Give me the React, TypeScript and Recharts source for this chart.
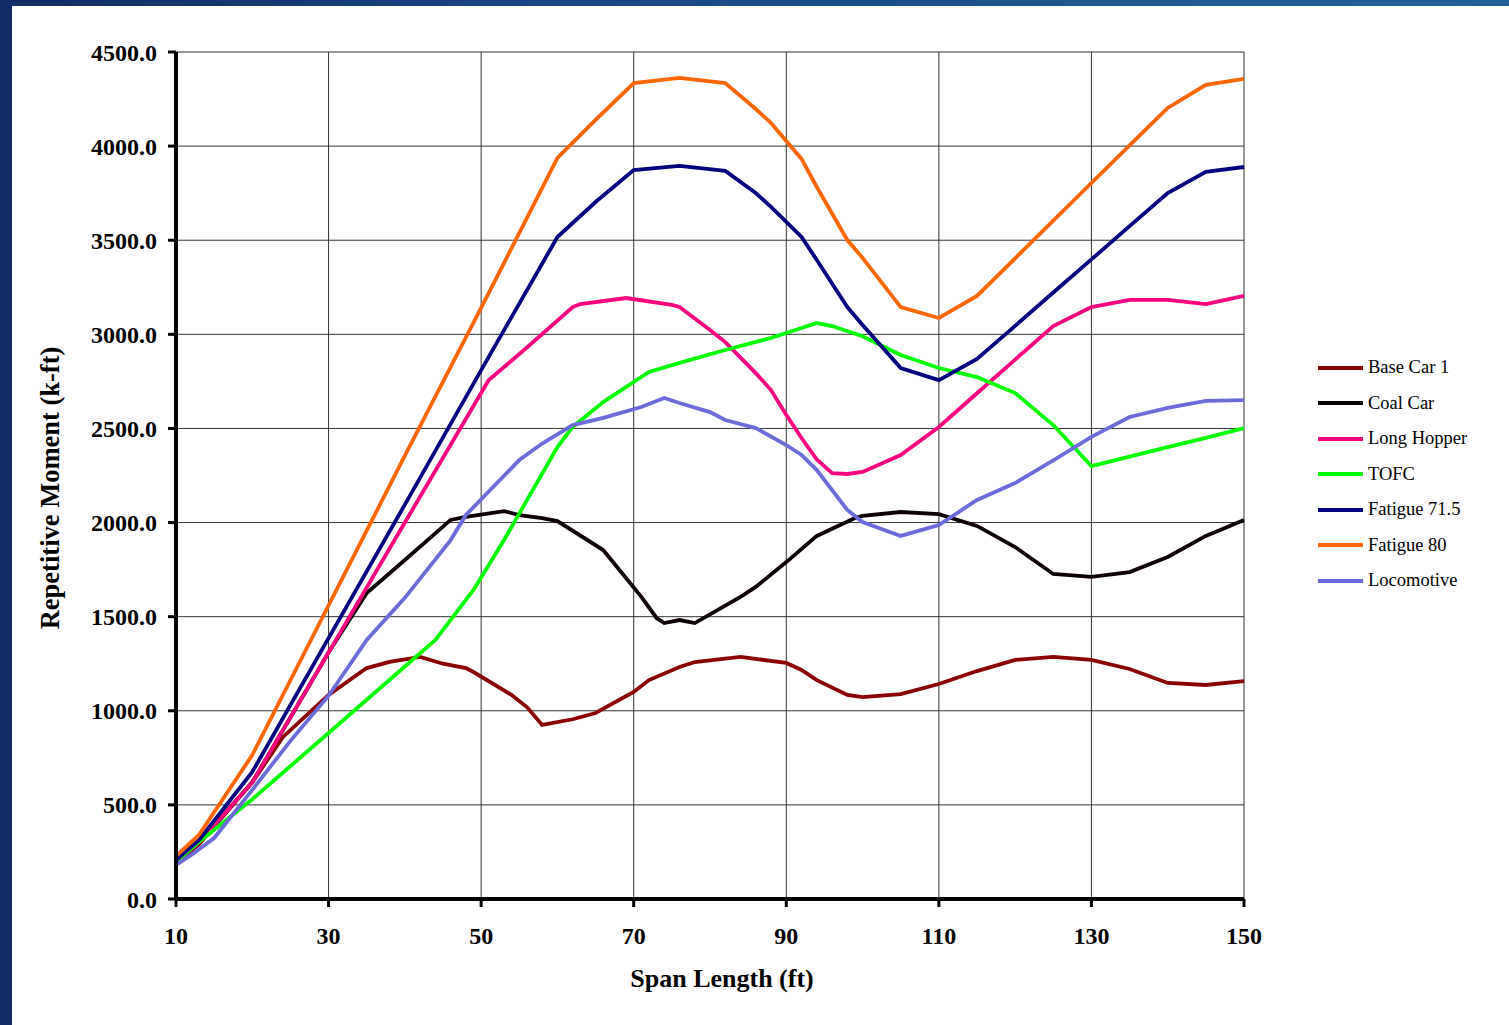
import { LineChart, Line, XAxis, YAxis, CartesianGrid, Legend, Label } from 'recharts';

// span length (ft) and repetitive moment (k-ft) for each car type
const baseCarSpan = [10, 13, 20, 24, 30, 35, 38, 42, 45, 48, 49, 54, 56, 58, 62, 65, 70, 72, 76, 78, 84, 90, 92, 94, 98, 100, 105, 110, 115, 120, 125, 130, 135, 140, 145, 150];
const baseCarMoment = [191, 290, 620, 860, 1084, 1227, 1260, 1286, 1250, 1227, 1206, 1084, 1020, 925, 955, 988, 1100, 1163, 1233, 1259, 1286, 1254, 1217, 1163, 1084, 1073, 1089, 1142, 1211, 1270, 1286, 1270, 1222, 1148, 1137, 1158];

const coalCarSpan = [10, 13, 20, 30, 35, 40, 46, 48, 53, 55, 58, 60, 66, 71, 73, 74, 76, 78, 84, 86, 90, 94, 99, 100, 105, 110, 115, 120, 125, 130, 135, 140, 145, 150];
const coalCarMoment = [197, 300, 620, 1310, 1626, 1801, 2014, 2030, 2061, 2040, 2024, 2008, 1854, 1605, 1493, 1466, 1482, 1466, 1605, 1658, 1790, 1929, 2024, 2035, 2056, 2045, 1982, 1870, 1727, 1711, 1737, 1817, 1929, 2014];

const longHopperSpan = [10, 13, 20, 30, 40, 51, 56, 62, 63, 69, 75, 76, 80, 82, 86, 88, 90, 92, 94, 96, 98, 100, 105, 110, 115, 120, 125, 130, 135, 140, 145, 150];
const longHopperMoment = [197, 300, 620, 1310, 2000, 2757, 2930, 3145, 3161, 3193, 3156, 3145, 3023, 2959, 2794, 2704, 2572, 2449, 2335, 2263, 2258, 2269, 2359, 2508, 2687, 2866, 3044, 3145, 3183, 3183, 3161, 3204];

const tofcSpan = [10, 13, 20, 30, 40, 44, 49, 53, 60, 62, 66, 72, 76, 82, 88, 90, 94, 96, 100, 105, 110, 115, 120, 125, 130, 135, 140, 145, 150];
const tofcMoment = [197, 303, 530, 882, 1235, 1376, 1642, 1907, 2401, 2508, 2640, 2800, 2848, 2917, 2981, 3007, 3060, 3044, 2990, 2890, 2821, 2773, 2688, 2518, 2300, 2350, 2401, 2450, 2502];

const fatigue715Span = [10, 13, 20, 30, 40, 50, 60, 65, 70, 76, 82, 86, 88, 92, 94, 98, 100, 105, 110, 115, 120, 125, 130, 135, 140, 145, 150];
const fatigue715Moment = [207, 313, 675, 1386, 2095, 2810, 3517, 3703, 3873, 3895, 3868, 3751, 3677, 3517, 3395, 3145, 3050, 2821, 2757, 2869, 3045, 3222, 3398, 3575, 3751, 3863, 3889];

const fatigue80Span = [10, 13, 20, 30, 40, 50, 60, 65, 70, 76, 82, 86, 88, 92, 94, 98, 100, 105, 110, 115, 120, 125, 130, 135, 140, 145, 150];
const fatigue80Moment = [228, 340, 765, 1560, 2355, 3140, 3937, 4139, 4335, 4362, 4335, 4197, 4123, 3932, 3783, 3501, 3406, 3145, 3087, 3204, 3404, 3604, 3804, 4004, 4203, 4325, 4357];

const locoSpan = [10, 12, 15, 20, 25, 30, 35, 40, 46, 48, 55, 58, 62, 66, 71, 74, 76, 80, 82, 86, 90, 92, 94, 98, 100, 105, 110, 115, 120, 125, 130, 135, 140, 145, 150];
const locoMoment = [181, 234, 324, 580, 840, 1080, 1376, 1600, 1907, 2040, 2332, 2420, 2518, 2556, 2614, 2662, 2635, 2587, 2545, 2502, 2412, 2359, 2279, 2067, 2003, 1929, 1987, 2120, 2210, 2330, 2455, 2561, 2609, 2646, 2650];

const xTicks = [10, 30, 50, 70, 90, 110, 130, 150];
const yTicks = [0, 500, 1000, 1500, 2000, 2500, 3000, 3500, 4000, 4500];

const toPoints = (span: number[], moment: number[]) =>
  span.map((s, i) => ({ span: s, moment: moment[i] }));

const series = [
  { name: 'Base Car 1', color: '#8b0000', data: toPoints(baseCarSpan, baseCarMoment) },
  { name: 'Coal Car', color: '#0a0000', data: toPoints(coalCarSpan, coalCarMoment) },
  { name: 'Long Hopper', color: '#ff0080', data: toPoints(longHopperSpan, longHopperMoment) },
  { name: 'TOFC', color: '#00ff00', data: toPoints(tofcSpan, tofcMoment) },
  { name: 'Fatigue 71.5', color: '#000080', data: toPoints(fatigue715Span, fatigue715Moment) },
  { name: 'Fatigue 80', color: '#ff6600', data: toPoints(fatigue80Span, fatigue80Moment) },
  { name: 'Locomotive', color: '#6b6bdb', data: toPoints(locoSpan, locoMoment) },
];

const FONT = '"Liberation Serif", "Times New Roman", serif';
const tickStyle = { fontFamily: FONT, fontSize: 24, fontWeight: 700, fill: '#000' };

const renderLegend = () => (
  <div style={{ fontFamily: FONT, fontSize: 18.5, color: '#000' }}>
    {series.map((s) => (
      <div key={s.name} style={{ display: 'flex', alignItems: 'center', height: 35.5 }}>
        <span style={{ display: 'inline-block', width: 45, height: 4, background: s.color, marginRight: 5 }} />
        <span>{s.name}</span>
      </div>
    ))}
  </div>
);

export default function App() {
  return (
    <div
      style={{
        position: 'absolute',
        left: 0,
        top: 0,
        width: 1509,
        height: 1025,
        background: 'linear-gradient(to right, #102c66, #1a4a86 40%, #22609a)',
        overflow: 'hidden',
      }}
    >
      <div style={{ position: 'absolute', left: 12, top: 6, right: 0, bottom: 0, background: '#fff' }} />
      <div style={{ position: 'absolute', left: 0, top: 0 }}>
        <LineChart width={1509} height={1025} margin={{ top: 52, right: 265, bottom: 66, left: 0 }}>
          <CartesianGrid stroke="#333" strokeWidth={1} />
          <XAxis
            dataKey="span"
            type="number"
            domain={[10, 150]}
            ticks={xTicks}
            height={60}
            tick={tickStyle}
            tickSize={8}
            tickMargin={20}
            axisLine={{ stroke: '#000', strokeWidth: 4 }}
            tickLine={{ stroke: '#000', strokeWidth: 3 }}
          >
            <Label
              content={() => (
                <text x={722} y={978} textAnchor="middle" dominantBaseline="central" style={{ fontFamily: FONT, fontSize: 26, fontWeight: 700 }}>
                  Span Length (ft)
                </text>
              )}
            />
          </XAxis>
          <YAxis
            type="number"
            domain={[0, 4500]}
            ticks={yTicks}
            width={176}
            tick={tickStyle}
            tickSize={8}
            tickMargin={11}
            tickFormatter={(v: number) => v.toFixed(1)}
            axisLine={{ stroke: '#000', strokeWidth: 4 }}
            tickLine={{ stroke: '#000', strokeWidth: 3 }}
          >
            <Label
              content={() => (
                <text
                  x={50}
                  y={488}
                  transform="rotate(-90, 50, 488)"
                  textAnchor="middle"
                  dominantBaseline="central"
                  style={{ fontFamily: FONT, fontSize: 26.5, fontWeight: 700 }}
                >
                  Repetitive Moment (k-ft)
                </text>
              )}
            />
          </YAxis>
          <Legend
            layout="vertical"
            align="center"
            verticalAlign="middle"
            content={renderLegend}
            wrapperStyle={{ left: 1318, top: 350, right: 'auto', bottom: 'auto', width: 190 }}
          />
          {series.map((s) => (
            <Line
              key={s.name}
              name={s.name}
              data={s.data}
              dataKey="moment"
              type="linear"
              stroke={s.color}
              strokeWidth={3.8}
              dot={false}
              activeDot={false}
              isAnimationActive={false}
            />
          ))}
        </LineChart>
      </div>
    </div>
  );
}
